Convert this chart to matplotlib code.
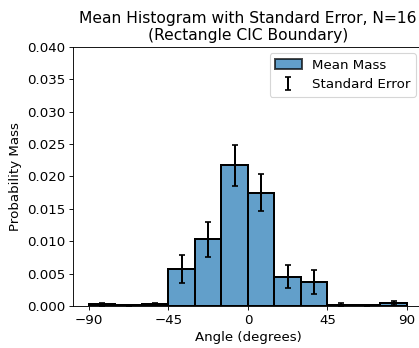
import numpy as np
import matplotlib
matplotlib.use('Agg')
import matplotlib.pyplot as plt
from matplotlib.ticker import FormatStrFormatter

# Bin edges (degrees) and mean histogram values with standard errors
bin_edges = np.arange(-90, 91, 15)
mean_mass = [0.00025, 0.0001, 0.0003, 0.0057, 0.0103, 0.0217, 0.0175, 0.0045, 0.0037, 0.0002, 0.0001, 0.0005]
std_err = [0.0002, 0.0001, 0.0002, 0.0021, 0.0027, 0.0032, 0.0029, 0.0018, 0.0019, 0.0002, 0.0001, 0.0003]

centers = (bin_edges[:-1] + bin_edges[1:]) / 2
width = np.diff(bin_edges)

plt.rcParams['font.size'] = 12

fig = plt.figure(figsize=(419 / 80, 348 / 80), dpi=80)
ax = fig.add_axes([0.1742, 0.1207, 0.8348, 0.7451])

ax.bar(centers, mean_mass, width=width, color='C0', alpha=0.7,
       edgecolor='black', linewidth=1.8, label='Mean Mass')
# edges again at full opacity
ax.bar(centers, mean_mass, width=width, facecolor='none',
       edgecolor='black', linewidth=1.8)
ax.errorbar(centers, mean_mass, yerr=std_err, fmt='none', ecolor='black',
            elinewidth=1.8, capsize=3, capthick=1.5, label='Standard Error')

ax.set_ylim(0, 0.04)
ax.set_xticks([-90, -45, 0, 45, 90])
ax.yaxis.set_major_formatter(FormatStrFormatter('%.3f'))
ax.set_xlabel('Angle (degrees)')
ax.set_ylabel('Probability Mass')
ax.set_title('Mean Histogram with Standard Error, N=16\n(Rectangle CIC Boundary)',
             fontsize=14)
ax.legend(loc='upper right')

fig.savefig('out.png', dpi=80)
